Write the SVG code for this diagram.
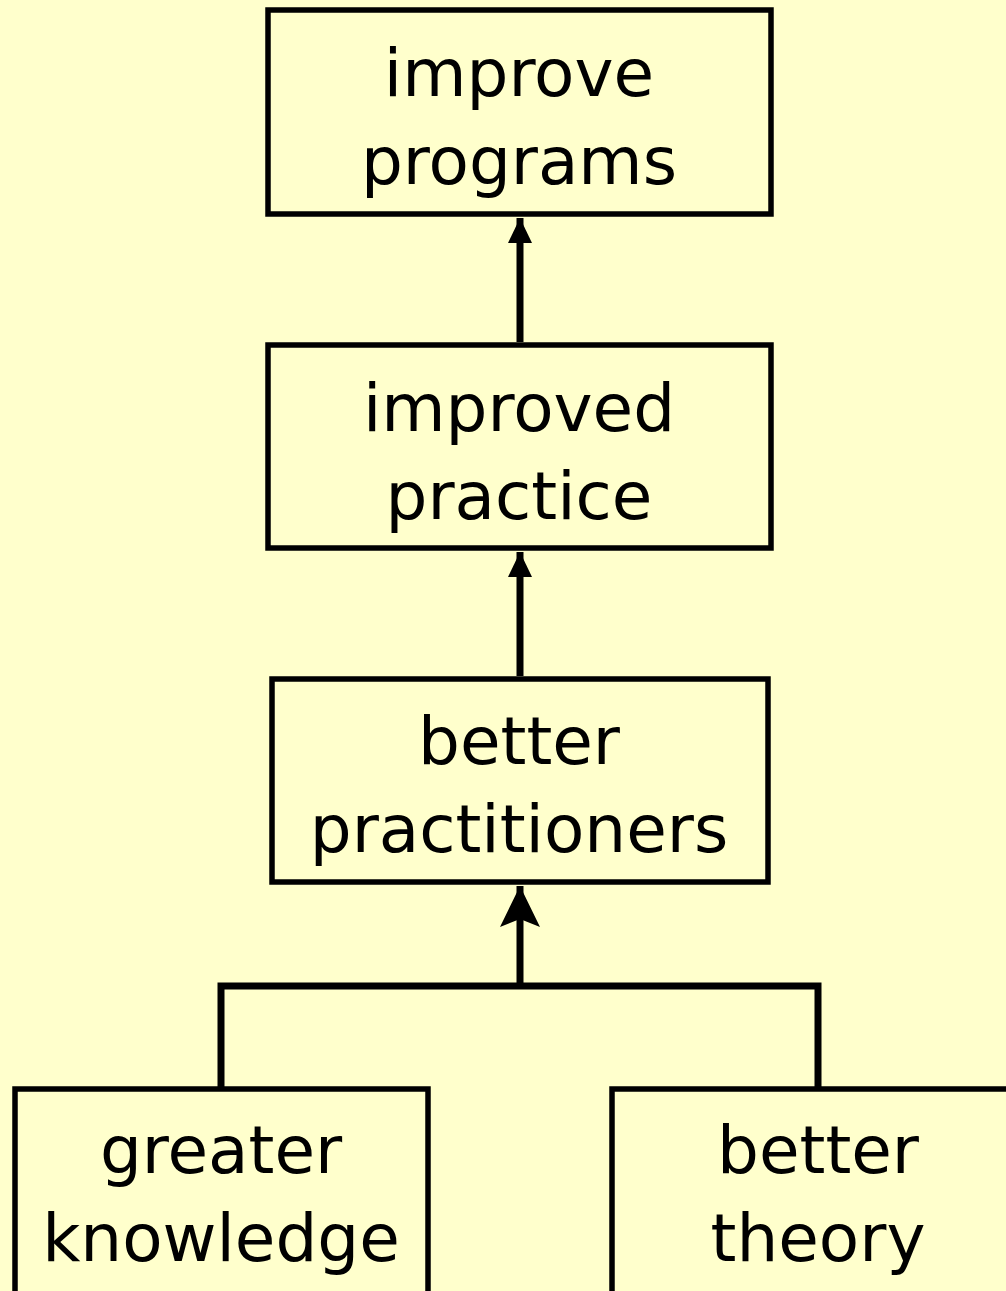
<svg xmlns="http://www.w3.org/2000/svg" width="1006" height="1291" viewBox="0 0 1006 1291">
<style>
.box{fill:#FFFFCC;stroke:#000;stroke-width:5.5}
.lbl{font-family:"DejaVu Sans",sans-serif;font-size:66px;fill:#000;text-anchor:middle}
.con{fill:none;stroke:#000;stroke-width:7}
</style>
<defs>
<marker id="tri" markerUnits="userSpaceOnUse" markerWidth="26" markerHeight="26" viewBox="0 0 26 26" refX="25" refY="13" orient="auto">
<path d="M0,1 L25,13 L0,25 Z" fill="#000"/>
</marker>
<marker id="stealth" markerUnits="userSpaceOnUse" markerWidth="42" markerHeight="42" viewBox="0 0 42 42" refX="41" refY="21" orient="auto">
<path d="M0,1 L41,21 L0,41 L8,21 Z" fill="#000"/>
</marker>
</defs>
<rect width="1006" height="1291" fill="#FFFFCC"/>
<g id="connectors">
<line class="con" x1="520" y1="342" x2="520" y2="218" marker-end="url(#tri)"/>
<line class="con" x1="520" y1="676" x2="520" y2="552" marker-end="url(#tri)"/>
<path class="con" d="M221,1087 V986 H818 V1087"/>
<line class="con" x1="520" y1="988" x2="520" y2="886" marker-end="url(#stealth)"/>
</g>
<g id="n1"><rect class="box" x="268" y="10" width="503" height="204"/>
<text class="lbl" x="519" y="96">improve</text><text class="lbl" x="519" y="184">programs</text></g>
<g id="n2"><rect class="box" x="268" y="345" width="503" height="203"/>
<text class="lbl" x="519" y="431">improved</text><text class="lbl" x="519" y="519">practice</text></g>
<g id="n3"><rect class="box" x="272" y="679" width="496" height="203"/>
<text class="lbl" x="519" y="764">better</text><text class="lbl" x="519" y="852">practitioners</text></g>
<g id="n4"><rect class="box" x="15" y="1089" width="413" height="210"/>
<text class="lbl" x="221" y="1173">greater</text><text class="lbl" x="221" y="1261">knowledge</text></g>
<g id="n5"><rect class="box" x="612" y="1089" width="400" height="210"/>
<text class="lbl" x="818" y="1173">better</text><text class="lbl" x="818" y="1261">theory</text></g>
</svg>
